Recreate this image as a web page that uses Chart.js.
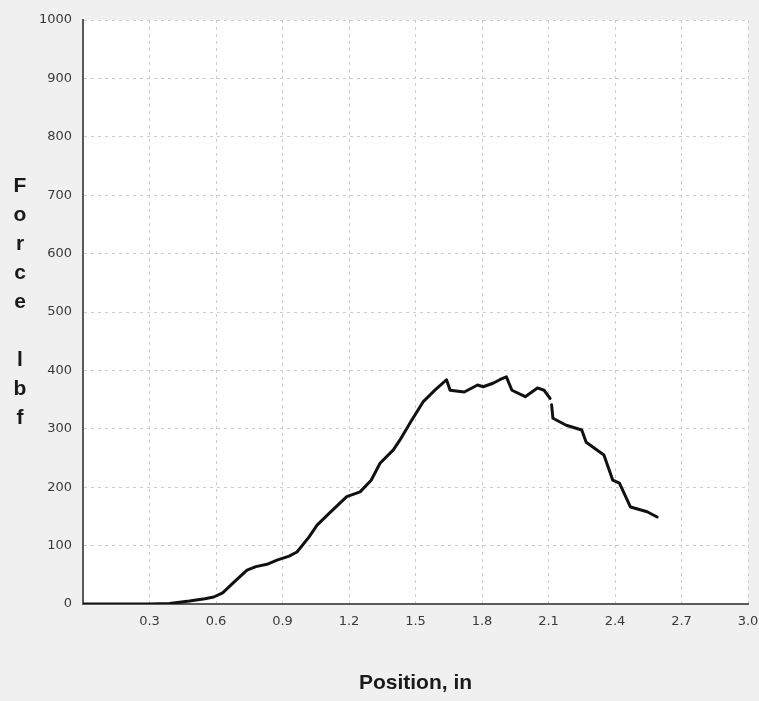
<!DOCTYPE html>
<html>
<head>
<meta charset="utf-8">
<script src="https://cdn.jsdelivr.net/npm/chart.js@4.4.1/dist/chart.umd.min.js"></script>
<style>
	html, body { margin: 0; padding: 0; background: #f0f0f0; }
	#chart { display: block; }
</style>
</head>
<body>
<canvas id="chart" width="759" height="701"></canvas>
<script>
// Position (in) and force (lbf); null marks the small break near 2.11 in
const positions = [0, 0.1, 0.2, 0.3, 0.39, 0.48, 0.55, 0.59, 0.63, 0.68, 0.74, 0.78, 0.83, 0.875, 0.93, 0.965,
	0.98, 1.02, 1.056, 1.115, 1.19, 1.25, 1.3, 1.34, 1.4, 1.43, 1.48, 1.534, 1.59, 1.64, 1.656, 1.72, 1.78,
	1.805, 1.85, 1.88, 1.91, 1.935, 1.995, 2.05, 2.08, 2.107, 2.11, 2.114, 2.12, 2.18, 2.25, 2.27, 2.35,
	2.39, 2.42, 2.47, 2.545, 2.59];
const forces = [0, 0, 0, 0, 1, 5, 9, 12, 19, 37, 58, 64, 68, 75, 82, 89,
	96, 115, 135, 157, 184, 192, 212, 241, 264, 281, 313, 346, 367, 384, 366, 363, 375,
	372, 378, 384, 389, 366, 355, 370, 366, 352, null, 341, 318, 306, 298, 277, 255,
	212, 207, 166, 158, 149];

const xTitle = 'Position, in';
const yTitleLines = ['F', 'o', 'r', 'c', 'e', ' ', 'l', 'b', 'f'];

const points = positions.map(function(x, i) {
	return { x: x, y: forces[i] };
});

// white plot area + stacked letters for the y title
const plotDecor = {
	id: 'plotDecor',
	beforeDraw: function(chart) {
		const a = chart.chartArea;
		const ctx = chart.ctx;
		ctx.save();
		ctx.fillStyle = '#ffffff';
		ctx.fillRect(a.left, a.top, a.right - a.left, a.bottom - a.top);
		ctx.restore();
	},
	afterDraw: function(chart) {
		const ctx = chart.ctx;
		ctx.save();
		ctx.fillStyle = '#1a1a1a';
		ctx.font = 'bold 21px "Liberation Sans", Arial, sans-serif';
		ctx.textAlign = 'center';
		ctx.textBaseline = 'alphabetic';
		yTitleLines.forEach(function(ch, i) {
			ctx.fillText(ch, 20, 192 + i * 29);
		});
		ctx.restore();
	}
};

const tickFont = { family: '"DejaVu Sans", sans-serif', size: 13 };

new Chart(document.getElementById('chart'), {
	type: 'line',
	data: {
		datasets: [{
			data: points,
			borderColor: '#111111',
			borderWidth: 3,
			borderJoinStyle: 'round',
			borderCapStyle: 'round',
			pointRadius: 0,
			tension: 0,
			spanGaps: false,
			fill: false
		}]
	},
	options: {
		responsive: false,
		animation: false,
		layout: { padding: { left: 0, top: 20, right: 11, bottom: 0 } },
		plugins: {
			legend: { display: false },
			tooltip: { enabled: false }
		},
		scales: {
			x: {
				type: 'linear',
				min: 0,
				max: 3,
				afterFit: function(scale) {
					scale.height = 97;
					// let the "3.0" label run off the edge like the original
					scale.paddingRight = 0;
					scale.paddingLeft = 0;
				},
				ticks: {
					stepSize: 0.3,
					color: '#3a3a3a',
					font: tickFont,
					padding: 10,
					maxRotation: 0,
					callback: function(value) {
						return value === 0 ? '' : value.toFixed(1);
					}
				},
				grid: { color: '#cccccc', lineWidth: 1, drawTicks: false },
				border: { display: true, color: '#5a5a5a', width: 2, dash: [3, 4] },
				title: {
					display: true,
					text: xTitle,
					color: '#1a1a1a',
					font: { family: '"Liberation Sans", Arial, sans-serif', size: 21, weight: 'bold' },
					padding: { top: 0, bottom: 5 }
				}
			},
			y: {
				min: 0,
				max: 1000,
				afterFit: function(scale) {
					scale.width = 83;
					scale.paddingTop = 0;
					scale.paddingBottom = 0;
				},
				ticks: {
					stepSize: 100,
					color: '#3a3a3a',
					font: tickFont,
					padding: 11,
					callback: function(value) {
						return String(value);
					}
				},
				grid: { color: '#cccccc', lineWidth: 1, drawTicks: false },
				border: { display: true, color: '#5a5a5a', width: 2, dash: [3, 4] }
			}
		}
	},
	plugins: [plotDecor]
});
</script>
</body>
</html>
